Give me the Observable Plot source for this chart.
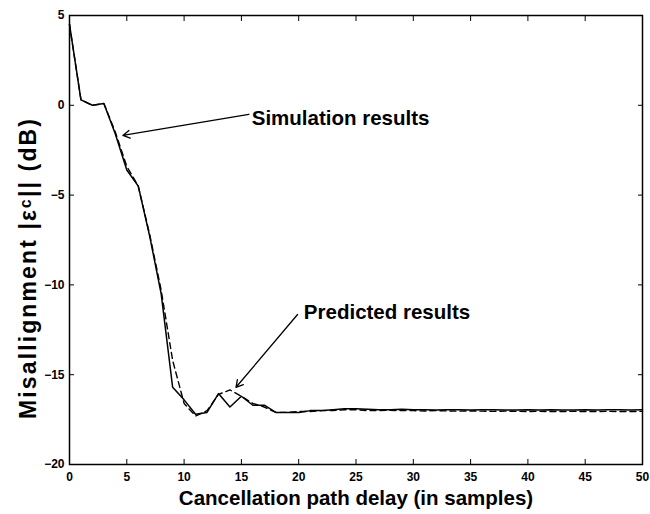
<!DOCTYPE html>
<html>
<head>
<meta charset="utf-8">
<script src="https://cdn.jsdelivr.net/npm/d3@7"></script>
<script src="https://cdn.jsdelivr.net/npm/@observablehq/plot@0.6"></script>
<style>
  html, body { margin: 0; padding: 0; background: #fff; }
  #chart { width: 650px; height: 514px; }
</style>
</head>
<body>
<div id="chart"></div>
<script>
// ---- data ----
const delay = [0,1,2,3,4,5,6,7,8,9,10,11,12,13,14,15,16,17,18,19,20,21,22,23,24,25,26,27,28,29,30,31,32,33,34,35,36,37,38,39,40,41,42,43,44,45,46,47,48,49,50];
const simulated = [4.5, 0.3, 0.0, 0.1, -1.6, -3.6, -4.5, -7.3, -10.5, -15.7,
  -16.4, -17.2, -17.1, -16.05, -16.8, -16.2, -16.7, -16.7, -17.1, -17.1,
  -17.1, -17.0, -17.0, -16.95, -16.9, -16.9, -16.92, -16.95, -16.95, -16.92,
  -16.95, -16.95, -16.96, -16.95, -16.95, -16.96, -16.95, -16.95, -16.96, -16.96,
  -16.95, -16.96, -16.95, -16.96, -16.96, -16.95, -16.96, -16.95, -16.95, -16.96, -16.95];
const predicted = [4.5, 0.3, 0.0, 0.1, -1.5, -3.4, -4.5, -7.2, -10.3, -14.2,
  -16.6, -17.3, -17.0, -16.1, -15.85, -16.2, -16.6, -16.8, -17.1, -17.1,
  -17.05, -17.05, -17.0, -17.0, -16.95, -16.95, -17.0, -17.0, -16.98, -17.0,
  -17.0, -17.02, -17.0, -17.02, -17.03, -17.02, -17.03, -17.04, -17.03, -17.04,
  -17.05, -17.04, -17.05, -17.05, -17.04, -17.05, -17.05, -17.04, -17.05, -17.05, -17.04];

const xTicks = [0,5,10,15,20,25,30,35,40,45,50];
const yTicks = [-20,-15,-10,-5,0,5];
const xTitle = "Cancellation path delay (in samples)";
const yTitle = "Misallignment |\u03b5\u1d9c|| (dB)";

// annotations
const noteText = ["Simulation results", "Predicted results"];
const noteX = [15.9, 20.45];
const noteY = [-0.72, -11.55];
const arrowFromX = [15.65, 19.9];
const arrowFromY = [-0.5, -11.65];
const arrowToX = [4.66, 14.53];
const arrowToY = [-1.68, -15.7];

// ---- build ----
const simData = delay.map((d, i) => ({x: d, y: simulated[i]}));
const predData = delay.map((d, i) => ({x: d, y: predicted[i]}));
const notes = noteText.map((t, i) => ({t, x: noteX[i], y: noteY[i]}));
const arrows = arrowFromX.map((d, i) => ({x1: d, y1: arrowFromY[i], x2: arrowToX[i], y2: arrowToY[i]}));

const chart = Plot.plot({
  width: 650,
  height: 514,
  marginLeft: 69,
  marginRight: 8,
  marginTop: 15,
  marginBottom: 50,
  style: {fontFamily: "'Liberation Sans', Arial, sans-serif", fontSize: "12px", fontWeight: "bold", color: "#000", background: "#fff"},
  x: {domain: [0, 50]},
  y: {domain: [-20, 5]},
  marks: [
    Plot.axisX(xTicks, {anchor: "bottom", tickSize: -5, tickPadding: 13, label: null, fontSize: 12, fontWeight: "bold", strokeWidth: 1}),
    Plot.axisX(xTicks, {anchor: "top", tickSize: -5, tickFormat: () => "", label: null, strokeWidth: 1}),
    Plot.axisY(yTicks, {anchor: "left", tickSize: -5, tickPadding: 10, label: null, fontSize: 12, fontWeight: "bold", strokeWidth: 1}),
    Plot.axisY(yTicks, {anchor: "right", tickSize: -5, tickFormat: () => "", label: null, strokeWidth: 1}),
    Plot.frame({stroke: "#000", strokeWidth: 1.5}),
    Plot.line(predData, {x: "x", y: "y", stroke: "#000", strokeWidth: 1.4, strokeDasharray: "6,4"}),
    Plot.line(simData, {x: "x", y: "y", stroke: "#000", strokeWidth: 1.5}),
    Plot.arrow(arrows, {x1: "x1", y1: "y1", x2: "x2", y2: "y2", stroke: "#000", strokeWidth: 1.3, headLength: 9}),
    Plot.text(notes, {x: "x", y: "y", text: "t", textAnchor: "start", fontSize: 20.5, fontWeight: "bold", fill: "#000"}),
    Plot.text([xTitle], {frameAnchor: "bottom", textAnchor: "middle", dy: 40, fontSize: 20.5, fontWeight: "bold", fill: "#000"}),
    Plot.text([yTitle], {frameAnchor: "left", textAnchor: "middle", rotate: -90, dx: -41, dy: 29, fontSize: 23, fontWeight: "bold", fill: "#000"})
  ]
});
// stretch the y title to the reference's length
d3.select(chart).selectAll("text").filter(function() { return this.textContent === yTitle; })
  .attr("textLength", 300).attr("lengthAdjust", "spacing");
document.getElementById("chart").appendChild(chart);
</script>
</body>
</html>
